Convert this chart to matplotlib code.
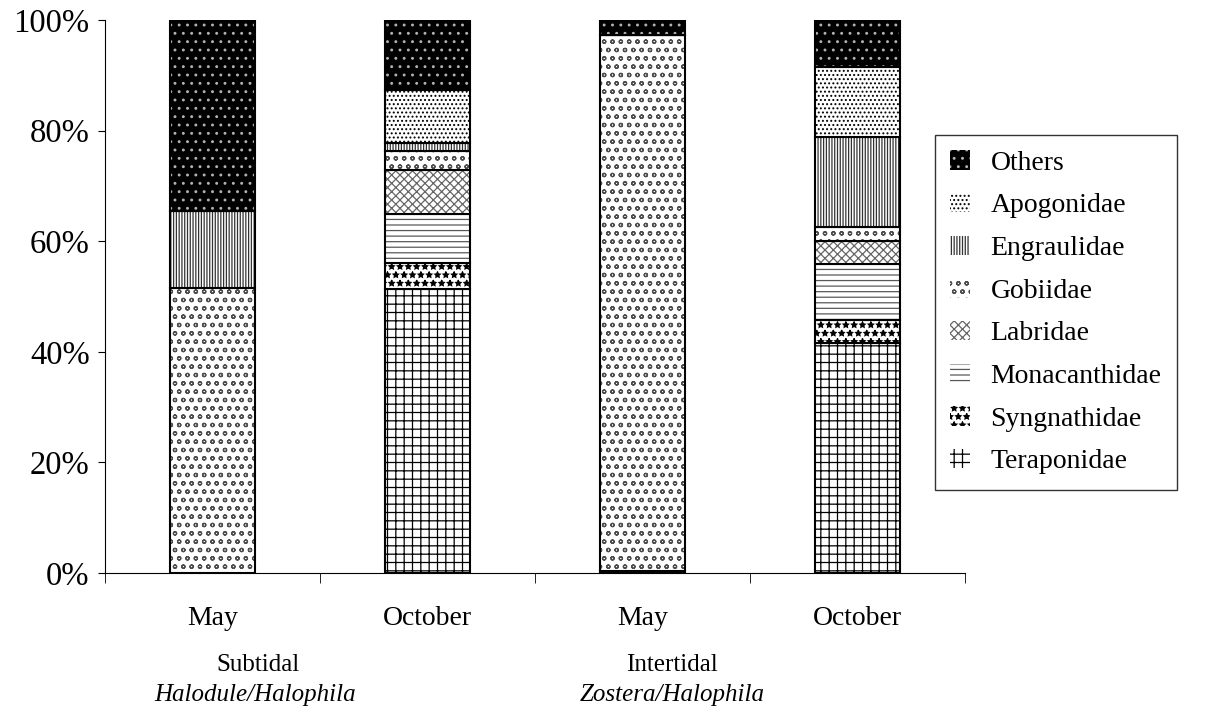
import matplotlib
matplotlib.use("Agg")
import matplotlib.pyplot as plt
import numpy as np

plt.rcParams['font.family'] = ['Liberation Serif', 'DejaVu Serif']
plt.rcParams['hatch.linewidth'] = 0.9

# data (percent of catch), one list per family, bars left to right
months = ['May', 'October', 'May', 'October']
teraponidae = [0.0, 51.4, 0.4, 41.6]
syngnathidae = [0.0, 4.7, 0.0, 4.2]
monacanthidae = [0.0, 8.8, 0.0, 10.1]
labridae = [0.0, 8.0, 0.0, 4.1]
gobiidae = [51.5, 3.4, 96.9, 2.6]
engraulidae = [14.0, 1.5, 0.0, 16.2]
apogonidae = [0.0, 9.5, 0.0, 12.7]
others = [34.5, 12.7, 2.7, 8.5]

families = ['Teraponidae', 'Syngnathidae', 'Monacanthidae', 'Labridae',
            'Gobiidae', 'Engraulidae', 'Apogonidae', 'Others']
values = [teraponidae, syngnathidae, monacanthidae, labridae,
          gobiidae, engraulidae, apogonidae, others]

# (facecolor, hatch colour, hatch)
styles = {
    'Teraponidae': ('white', 'black', '++'),
    'Syngnathidae': ('white', 'black', '**'),
    'Monacanthidae': ('white', '0.35', '---'),
    'Labridae': ('white', '0.4', 'xxxx'),
    'Gobiidae': ('white', '0.3', 'oo'),
    'Engraulidae': ('white', '0.2', '||||||'),
    'Apogonidae': ('white', 'black', '....'),
    'Others': ('black', '0.7', '..'),
}

fig = plt.figure(figsize=(12.09, 7.13), dpi=100)
ax = fig.add_axes([0.0868, 0.1964, 0.7114, 0.7756])

x = np.arange(len(months))
w = 0.395
bottom = np.zeros(len(months))
handles = []
for fam, vals in zip(families, values):
    fc, hc, h = styles[fam]
    vals = np.array(vals)
    bars = ax.bar(x, vals, w, bottom=bottom, color=fc, edgecolor=hc,
                  hatch=h, linewidth=0, label=fam)
    ax.bar(x, vals, w, bottom=bottom, fill=False, edgecolor='black',
           linewidth=1.5)
    handles.append(bars)
    bottom += vals

ax.set_xlim(-0.5, 3.5)
ax.set_ylim(0, 100)
ax.set_yticks(np.arange(0, 101, 20))
ax.set_yticklabels([f'{v}%' for v in range(0, 101, 20)], fontsize=23.5)
ax.set_xticks(x)
ax.set_xticklabels(months, fontsize=20)
ax.set_xticks(np.arange(-0.5, 4, 1), minor=True)
ax.tick_params(axis='x', which='major', length=0, pad=24)
ax.tick_params(axis='x', which='minor', length=7, direction='out')
ax.tick_params(axis='y', length=5, direction='out', pad=6)
for s in ['top', 'right']:
    ax.spines[s].set_visible(False)

fig.text(258 / 1209, 1 - 665 / 713, 'Subtidal', ha='center', va='center', fontsize=18)
fig.text(255 / 1209, 1 - 695 / 713, 'Halodule/Halophila', ha='center', va='center',
         fontsize=18, style='italic')
fig.text(672 / 1209, 1 - 665 / 713, 'Intertidal', ha='center', va='center', fontsize=18)
fig.text(672 / 1209, 1 - 695 / 713, 'Zostera/Halophila', ha='center', va='center',
         fontsize=18, style='italic')

leg = fig.legend(handles[::-1], families[::-1], loc='upper left',
                 bbox_to_anchor=(935 / 1209, 1 - 135 / 713), fontsize=20,
                 frameon=True, fancybox=False, edgecolor='black',
                 handlelength=0.7, handleheight=0.7, handletextpad=0.75,
                 labelspacing=0.62, borderpad=0.55, borderaxespad=0)
leg.get_frame().set_linewidth(1.0)

fig.savefig('out.png', dpi=100)
